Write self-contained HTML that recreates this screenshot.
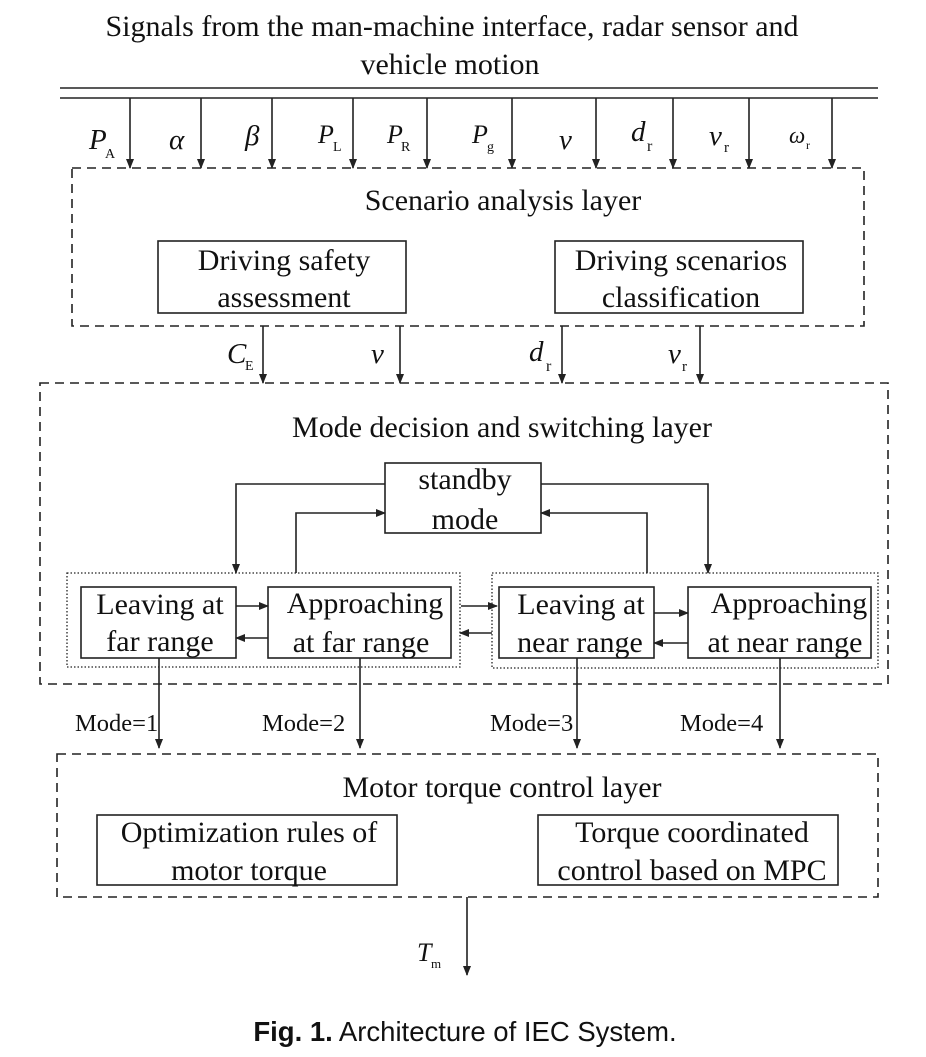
<!DOCTYPE html>
<html><head><style>
html,body{margin:0;padding:0;background:#fff;}
svg text{font-family:"Liberation Serif",serif;fill:#111;}
</style></head><body>
<svg width="926" height="1052" viewBox="0 0 926 1052" xmlns="http://www.w3.org/2000/svg">
<defs>
<marker id="a" markerWidth="10" markerHeight="10" refX="9" refY="5" orient="auto" markerUnits="userSpaceOnUse">
<path d="M0,1 L10,5 L0,9 Z" fill="#222"/></marker>
</defs>
<g font-size="30" text-anchor="middle">
<text x="452" y="36">Signals from the man-machine interface, radar sensor and</text>
<text x="450" y="74">vehicle motion</text>
</g>
<g stroke="#222" stroke-width="1.6" fill="none">
<line x1="60" y1="88" x2="878" y2="88"/>
<line x1="60" y1="98" x2="878" y2="98"/>
<g marker-end="url(#a)">
<line x1="130" y1="98" x2="130" y2="168"/>
<line x1="201" y1="98" x2="201" y2="168"/>
<line x1="272" y1="98" x2="272" y2="168"/>
<line x1="353" y1="98" x2="353" y2="168"/>
<line x1="427" y1="98" x2="427" y2="168"/>
<line x1="512" y1="98" x2="512" y2="168"/>
<line x1="596" y1="98" x2="596" y2="168"/>
<line x1="673" y1="98" x2="673" y2="168"/>
<line x1="749" y1="98" x2="749" y2="168"/>
<line x1="832" y1="98" x2="832" y2="168"/>
<line x1="263" y1="326" x2="263" y2="383"/>
<line x1="400" y1="326" x2="400" y2="383"/>
<line x1="562" y1="326" x2="562" y2="383"/>
<line x1="700" y1="326" x2="700" y2="383"/>
<polyline points="385,484 236,484 236,573"/>
<polyline points="296,573 296,513 385,513"/>
<polyline points="541,484 708,484 708,573"/>
<polyline points="647,573 647,513 541,513"/>
<line x1="236" y1="606" x2="268" y2="606"/>
<line x1="268" y1="638" x2="236" y2="638"/>
<line x1="461" y1="606" x2="497" y2="606"/>
<line x1="492" y1="633" x2="460" y2="633"/>
<line x1="654" y1="613" x2="688" y2="613"/>
<line x1="688" y1="643" x2="654" y2="643"/>
<line x1="159" y1="658" x2="159" y2="748"/>
<line x1="360" y1="658" x2="360" y2="748"/>
<line x1="577" y1="658" x2="577" y2="748"/>
<line x1="780" y1="658" x2="780" y2="748"/>
<line x1="467" y1="897" x2="467" y2="975"/>
</g>
<g stroke-dasharray="9,6">
<rect x="72" y="168" width="792" height="158"/>
<rect x="40" y="383" width="848" height="301"/>
<rect x="57" y="754" width="821" height="143"/>
</g>
<g stroke-dasharray="1.5,2" stroke-width="1.3">
<rect x="67" y="573" width="393" height="94"/>
<rect x="492" y="573" width="386" height="95"/>
</g>
<rect x="158" y="241" width="248" height="72"/>
<rect x="555" y="241" width="248" height="72"/>
<rect x="385" y="463" width="156" height="70"/>
<rect x="81" y="587" width="155" height="71"/>
<rect x="268" y="587" width="183" height="71"/>
<rect x="499" y="587" width="155" height="71"/>
<rect x="688" y="587" width="183" height="71"/>
<rect x="97" y="815" width="300" height="70"/>
<rect x="538" y="815" width="300" height="70"/>
</g>
<g font-size="30" text-anchor="middle">
<text x="503" y="210">Scenario analysis layer</text>
<text x="284" y="270">Driving safety</text>
<text x="284" y="307">assessment</text>
<text x="681" y="270">Driving scenarios</text>
<text x="681" y="307">classification</text>
<text x="502" y="437">Mode decision and switching layer</text>
<text x="465" y="489">standby</text>
<text x="465" y="529">mode</text>
<text x="160" y="614">Leaving at</text>
<text x="160" y="651">far range</text>
<text x="365" y="613">Approaching</text>
<text x="361" y="652">at far range</text>
<text x="581" y="614">Leaving at</text>
<text x="580" y="652">near range</text>
<text x="789" y="613">Approaching</text>
<text x="785" y="652">at near range</text>
<text x="502" y="797">Motor torque control layer</text>
<text x="249" y="842">Optimization rules of</text>
<text x="249" y="880">motor torque</text>
<text x="692" y="842">Torque coordinated</text>
<text x="692" y="880">control based on MPC</text>
</g>
<g font-size="24.5">
<text x="75" y="731">Mode=1</text>
<text x="262" y="731">Mode=2</text>
<text x="490" y="731">Mode=3</text>
<text x="680" y="731">Mode=4</text>
</g>
<g font-style="italic" font-size="29">
<text x="89" y="149">P</text><text x="105" y="158" font-size="14" font-style="normal">A</text>
<text x="169" y="149">α</text>
<text x="245" y="145">β</text>
<text x="318" y="143" font-size="26">P</text><text x="333" y="151" font-size="14" font-style="normal">L</text>
<text x="387" y="143" font-size="26">P</text><text x="401" y="151" font-size="14" font-style="normal">R</text>
<text x="472" y="143" font-size="26">P</text><text x="487" y="151" font-size="14" font-style="normal">g</text>
<text x="559" y="149">v</text>
<text x="631" y="141">d</text><text x="647" y="151" font-size="16" font-style="normal">r</text>
<text x="709" y="145">v</text><text x="724" y="152" font-size="15" font-style="normal">r</text>
<text x="789" y="143" font-size="23">ω</text><text x="806" y="149" font-size="12" font-style="normal">r</text>
<text x="227" y="363">C</text><text x="245" y="370" font-size="14" font-style="normal">E</text>
<text x="371" y="363">v</text>
<text x="529" y="361">d</text><text x="546" y="371" font-size="16" font-style="normal">r</text>
<text x="668" y="363">v</text><text x="682" y="371" font-size="15" font-style="normal">r</text>
<text x="417" y="961" font-size="26">T</text><text x="431" y="968" font-size="13" font-style="normal">m</text>
</g>
<text x="465" y="1041" text-anchor="middle" font-size="27.5" style="font-family:'Liberation Sans',sans-serif"><tspan font-weight="bold">Fig. 1.</tspan>  Architecture of IEC System.</text>
</svg>
</body></html>
